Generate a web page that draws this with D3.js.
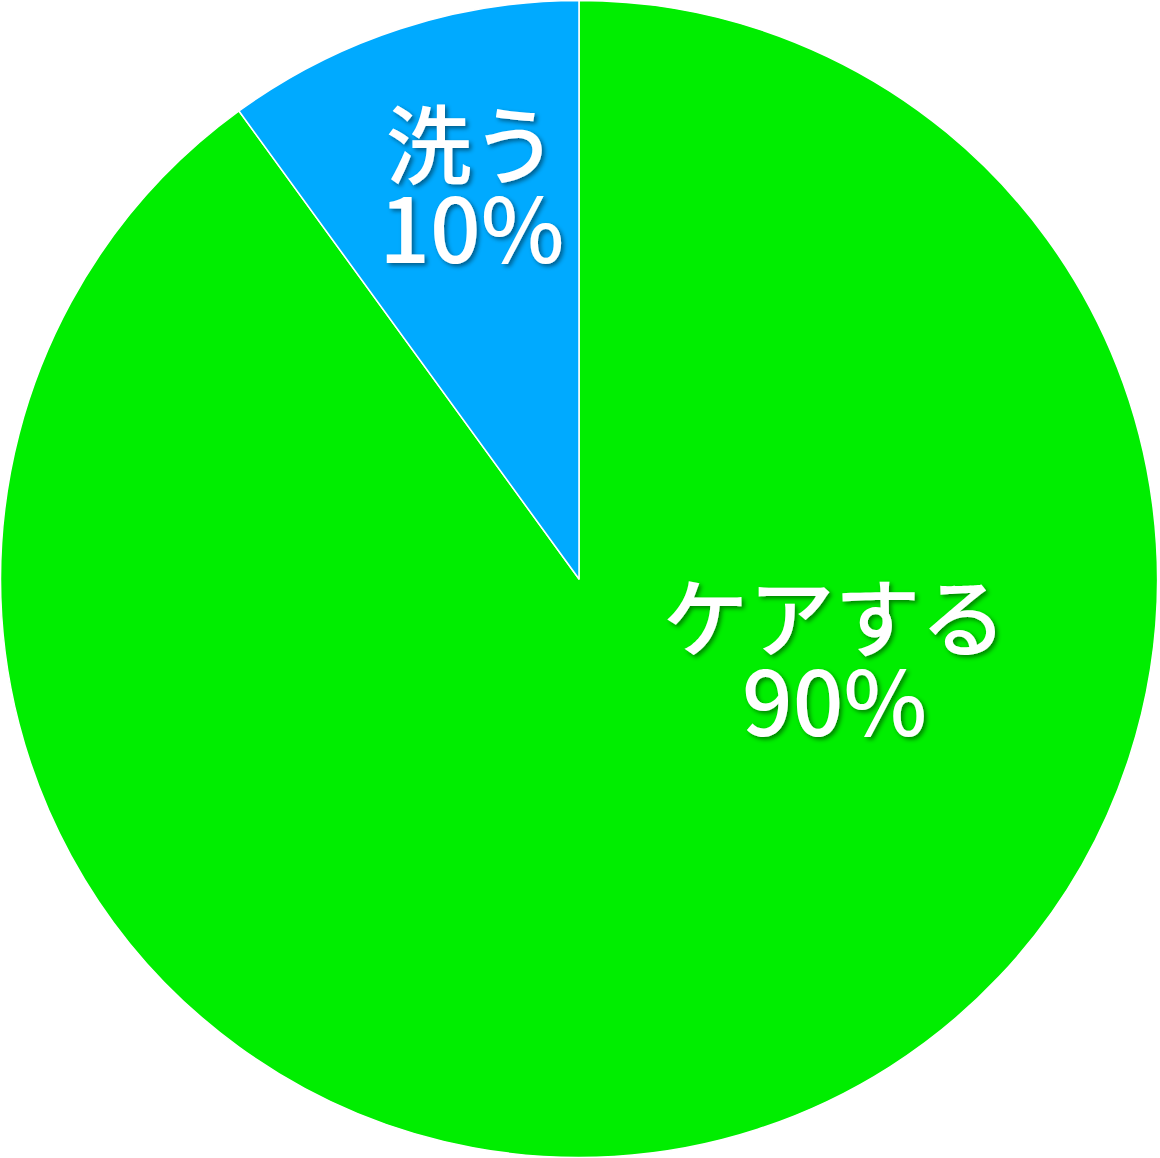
<!DOCTYPE html>
<html><head><meta charset="utf-8">
<script src="https://cdn.jsdelivr.net/npm/d3@7"></script>
<style>html,body{margin:0;padding:0;background:#fff;}</style>
</head><body>
<svg id="c" width="1160" height="1158"></svg>
<script>
const categories = ["ケアする", "洗う"];
const values = [90, 10];
const colors = ["#00EE00", "#00AAFF"];
// label placement (angle in degrees clockwise from top, radius as fraction of R)
const labelAngles = [108.2, -15.4];
const labelRadii = [0.465, 0.698];

const W = 1160, H = 1158, cx = 579, cy = 579, R = 578.5;
const svg = d3.select("#c");
const defs = svg.append("defs");
const f = defs.append("filter").attr("id","sh").attr("x","-20%").attr("y","-20%").attr("width","140%").attr("height","140%");
f.append("feDropShadow").attr("dx",2.5).attr("dy",2.5).attr("stdDeviation",2).attr("flood-color","#000").attr("flood-opacity",0.45);

const g = svg.append("g").attr("transform",`translate(${cx},${cy})`);
const data = categories.map((c,i)=>({name:c, value:values[i], color:colors[i], la:labelAngles[i], lr:labelRadii[i]}));
const pie = d3.pie().value(d=>d.value).sort(null);
const arc = d3.arc().innerRadius(0).outerRadius(R);
g.selectAll("path").data(pie(data)).join("path")
  .attr("d", arc).attr("fill", d=>d.data.color)
  .attr("stroke","#fff").attr("stroke-width",1.5).attr("stroke-linejoin","round");

const fs = 86, lh = 84;
const lab = g.selectAll("text.lab").data(data).join("text").attr("class","lab")
  .attr("transform", d=>{const p=d3.pointRadial(d.la*Math.PI/180, d.lr*R); return `translate(${p[0]},${p[1]})`;})
  .attr("filter","url(#sh)")
  .attr("text-anchor","middle")
  .attr("font-family","'Noto Sans CJK JP', sans-serif").attr("font-weight",500).attr("fill","#fff");
lab.append("tspan").attr("x",0).attr("y",-lh/2).attr("dy","0.35em").attr("font-size",fs)
  .text(d=>d.name);
lab.append("tspan").attr("x",0).attr("y",lh/2).attr("dy","0.35em").attr("font-size",fs+3)
  .text(d=>d.value+"%");
</script>
</body></html>
